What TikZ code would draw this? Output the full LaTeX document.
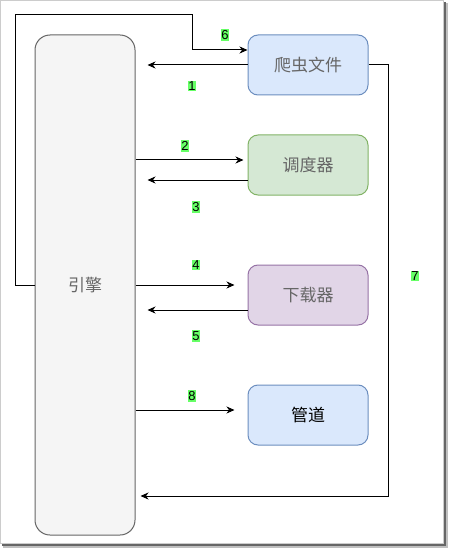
\documentclass[tikz,border=0pt]{standalone}
\usepackage{fontspec}
\setmainfont{Liberation Sans}
\newfontfamily\cjk{Noto Sans CJK SC}
\usetikzlibrary{arrows.meta}
\definecolor{numgreen}{HTML}{66FF66}
\definecolor{bluefill}{HTML}{DAE8FC}
\definecolor{blueline}{HTML}{6C8EBF}
\definecolor{greenfill}{HTML}{D5E8D4}
\definecolor{greenline}{HTML}{82B366}
\definecolor{purplefill}{HTML}{E1D5E7}
\definecolor{purpleline}{HTML}{9673A6}
\definecolor{greyfill}{HTML}{F5F5F5}
\definecolor{greyline}{HTML}{666666}
\tikzset{
  block/.style={draw, line width=1pt, rounded corners=10pt, minimum width=120pt,
    minimum height=60pt, font=\cjk\fontsize{17}{17}\selectfont, text=black!60},
  num/.style={fill=numgreen, inner xsep=0.5pt, inner ysep=1pt, font=\fontsize{13}{13}\selectfont},
  arr/.style={line width=1pt, -{Stealth[length=8pt,width=7pt,inset=2.5pt]}}
}
\begin{document}
\begin{tikzpicture}[x=1pt,y=-1pt]
\useasboundingbox (0,0) rectangle (448,548);
\fill[black!25] (3,3) rectangle (448,548);
\fill[black!60] (2,2) rectangle (446,546);
\fill[white, draw=black!20, line width=1pt] (0.5,0.5) rectangle (443.5,543.5);

\node[block, fill=greyfill, draw=greyline, rounded corners=15pt, minimum width=100pt,
  minimum height=500pt] (engine) at (85,285) {引擎};
\node[block, fill=bluefill, draw=blueline] (spider) at (308,65) {爬虫文件};
\node[block, fill=greenfill, draw=greenline] (scheduler) at (308,165) {调度器};
\node[block, fill=purplefill, draw=purpleline] (downloader) at (308,295) {下载器};
\node[block, fill=bluefill, draw=blueline, text=black] (pipeline) at (308,415) {管道};

\coordinate (c6) at (15,15);
\coordinate (c7) at (388,496);
\draw[arr] (engine.west) -| (c6) -| (192,50) -- ([yshift=15pt]spider.west);
\draw[arr] (spider.west) -- ([xshift=12pt]engine.east |- spider.west);
\draw[arr] (engine.east |- 0,160) -- ([xshift=-4pt]scheduler.west |- 0,160);
\draw[arr] (scheduler.west |- 0,180) -- ([xshift=12pt]engine.east |- 0,180);
\draw[arr] (engine.east) -- ([xshift=-13pt]downloader.west |- engine.east);
\draw[arr] (downloader.west |- 0,310) -- ([xshift=12pt]engine.east |- 0,310);
\draw[arr] (engine.east |- 0,410) -- ([xshift=-13pt]pipeline.west |- 0,410);
\draw[arr] (spider.east) -| (c7) -- ([xshift=5pt]engine.east |- c7);

\node[num] (n6) at (225,35) {6};
\node[num] (n1) at (192,86) {1};
\node[num] (n2) at (185,146) {2};
\node[num] (n3) at (196,207) {3};
\node[num] (n4) at (196,265) {4};
\node[num] (n5) at (196,336) {5};
\node[num] (n7) at (415,276) {7};
\node[num] (n8) at (192,396) {8};
\end{tikzpicture}
\end{document}
